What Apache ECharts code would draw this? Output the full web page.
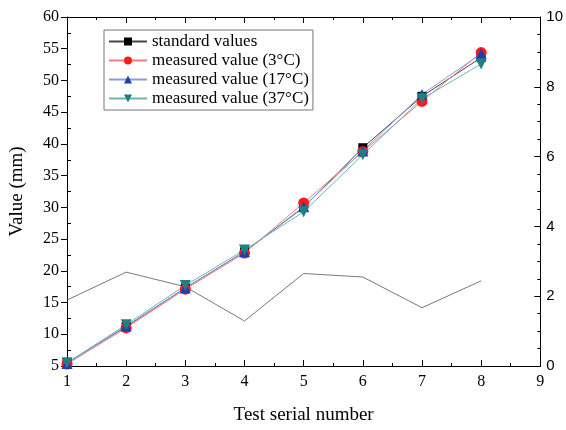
<!DOCTYPE html>
<html>
<head>
<meta charset="utf-8">
<script src="https://cdn.jsdelivr.net/npm/echarts@6/dist/echarts.min.js"></script>
<style>
  html, body { margin: 0; padding: 0; background: #fff; }
  #chart { width: 566px; height: 430px; }
</style>
</head>
<body>
<div id="chart"></div>
<script>
const testNo = [1, 2, 3, 4, 5, 6, 7, 8];
const standardValues = [5.5, 11.2, 17.3, 23.0, 30.0, 39.4, 47.5, 53.6];
const measured3 = [5.3, 11.0, 17.1, 22.8, 30.7, 38.8, 46.7, 54.4];
const measured17 = [5.4, 11.3, 17.3, 23.0, 30.1, 38.9, 47.8, 54.2];
const measured37 = [5.5, 11.5, 17.7, 23.3, 29.3, 38.3, 47.1, 52.6];
const errorLine = [1.89, 2.69, 2.27, 1.29, 2.65, 2.55, 1.67, 2.44];

const serif = "Liberation Serif";
const pair = (ys) => ys.map((y, i) => [testNo[i], y]);

const chart = echarts.init(document.getElementById("chart"));

function mainSeries(name, marker, lineColor, data, symbol, rotate) {
  return {
    name,
    type: "line",
    data: pair(data),
    symbol,
    symbolSize: symbol === "rect" ? 9 : 11,
    symbolRotate: rotate || 0,
    itemStyle: { color: marker },
    lineStyle: { color: lineColor, width: 1 },
    z: 3,
  };
}

const black = { color: "#000" };

chart.setOption({
  animation: false,
  grid: { left: 66, right: 24, top: 17, bottom: 63 },
  legend: {
    left: 104,
    top: 30,
    orient: "vertical",
    itemWidth: 38,
    itemHeight: 10,
    itemGap: 2,
    padding: [3, 4, 3, 4],
    borderColor: "#777",
    borderWidth: 1,
    backgroundColor: "#fff",
    textStyle: { fontFamily: serif, fontSize: 17, lineHeight: 17, color: "#000" },
    data: [
      "standard values",
      "measured value (3°C)",
      "measured value (17°C)",
      "measured value (37°C)",
    ],
  },
  xAxis: [
    {
      type: "value",
      min: 1,
      max: 9,
      interval: 1,
      name: "Test serial number",
      nameLocation: "middle",
      nameGap: 40,
      nameTextStyle: { fontFamily: serif, fontSize: 19, color: "#000" },
      axisLine: { lineStyle: { color: "#000", width: 1 } },
      axisTick: { inside: true, length: 6, lineStyle: black },
      minorTick: { show: true, splitNumber: 2, length: 3, lineStyle: black },
      axisLabel: { fontFamily: serif, fontSize: 16, color: "#000", margin: 8 },
      splitLine: { show: false },
    },
    {
      type: "value",
      position: "top",
      min: 1,
      max: 9,
      interval: 1,
      axisLine: { lineStyle: { color: "#000", width: 1 } },
      axisTick: { inside: true, length: 6, lineStyle: black },
      minorTick: { show: true, splitNumber: 2, length: 3, lineStyle: black },
      axisLabel: { show: false },
      splitLine: { show: false },
    },
  ],
  yAxis: [
    {
      type: "value",
      min: 5,
      max: 60,
      interval: 5,
      name: "Value (mm)",
      nameLocation: "middle",
      nameGap: 40,
      nameTextStyle: { fontFamily: serif, fontSize: 19, color: "#000" },
      axisLine: { show: true, lineStyle: { color: "#000", width: 1 } },
      axisTick: { show: true, length: 6, lineStyle: black },
      minorTick: { show: false },
      axisLabel: { fontFamily: serif, fontSize: 16, color: "#000", margin: 8 },
      splitLine: { show: false },
    },
    {
      type: "value",
      position: "right",
      min: 0,
      max: 10,
      interval: 2,
      axisLine: { show: true, lineStyle: { color: "#000", width: 1 } },
      axisTick: { show: true, inside: true, length: 6, lineStyle: black },
      minorTick: { show: true, splitNumber: 4, length: 3, lineStyle: black },
      axisLabel: { fontFamily: "Liberation Sans", fontSize: 15, color: "#000", margin: 6 },
      splitLine: { show: false },
    },
    {
      // left axis minor ticks point inward
      type: "value",
      position: "left",
      min: 5,
      max: 60,
      interval: 5,
      axisLine: { show: false },
      axisTick: { show: false, inside: true },
      minorTick: { show: true, splitNumber: 2, length: 4, lineStyle: black },
      axisLabel: { show: false },
      splitLine: { show: false },
    },
  ],
  series: [
    {
      name: "error",
      type: "line",
      yAxisIndex: 1,
      data: pair(errorLine),
      showSymbol: false,
      symbol: "none",
      lineStyle: { color: "#555", width: 0.8 },
      z: 2,
    },
    mainSeries("standard values", "#000", "#444", standardValues, "rect"),
    mainSeries("measured value (3°C)", "#ff1a1a", "#f08080", measured3, "circle"),
    mainSeries("measured value (17°C)", "#1f3fb0", "#8a9ae0", measured17, "triangle"),
    mainSeries("measured value (37°C)", "#1f8080", "#6fb5b5", measured37, "triangle", 180),
  ],
});
</script>
</body>
</html>
